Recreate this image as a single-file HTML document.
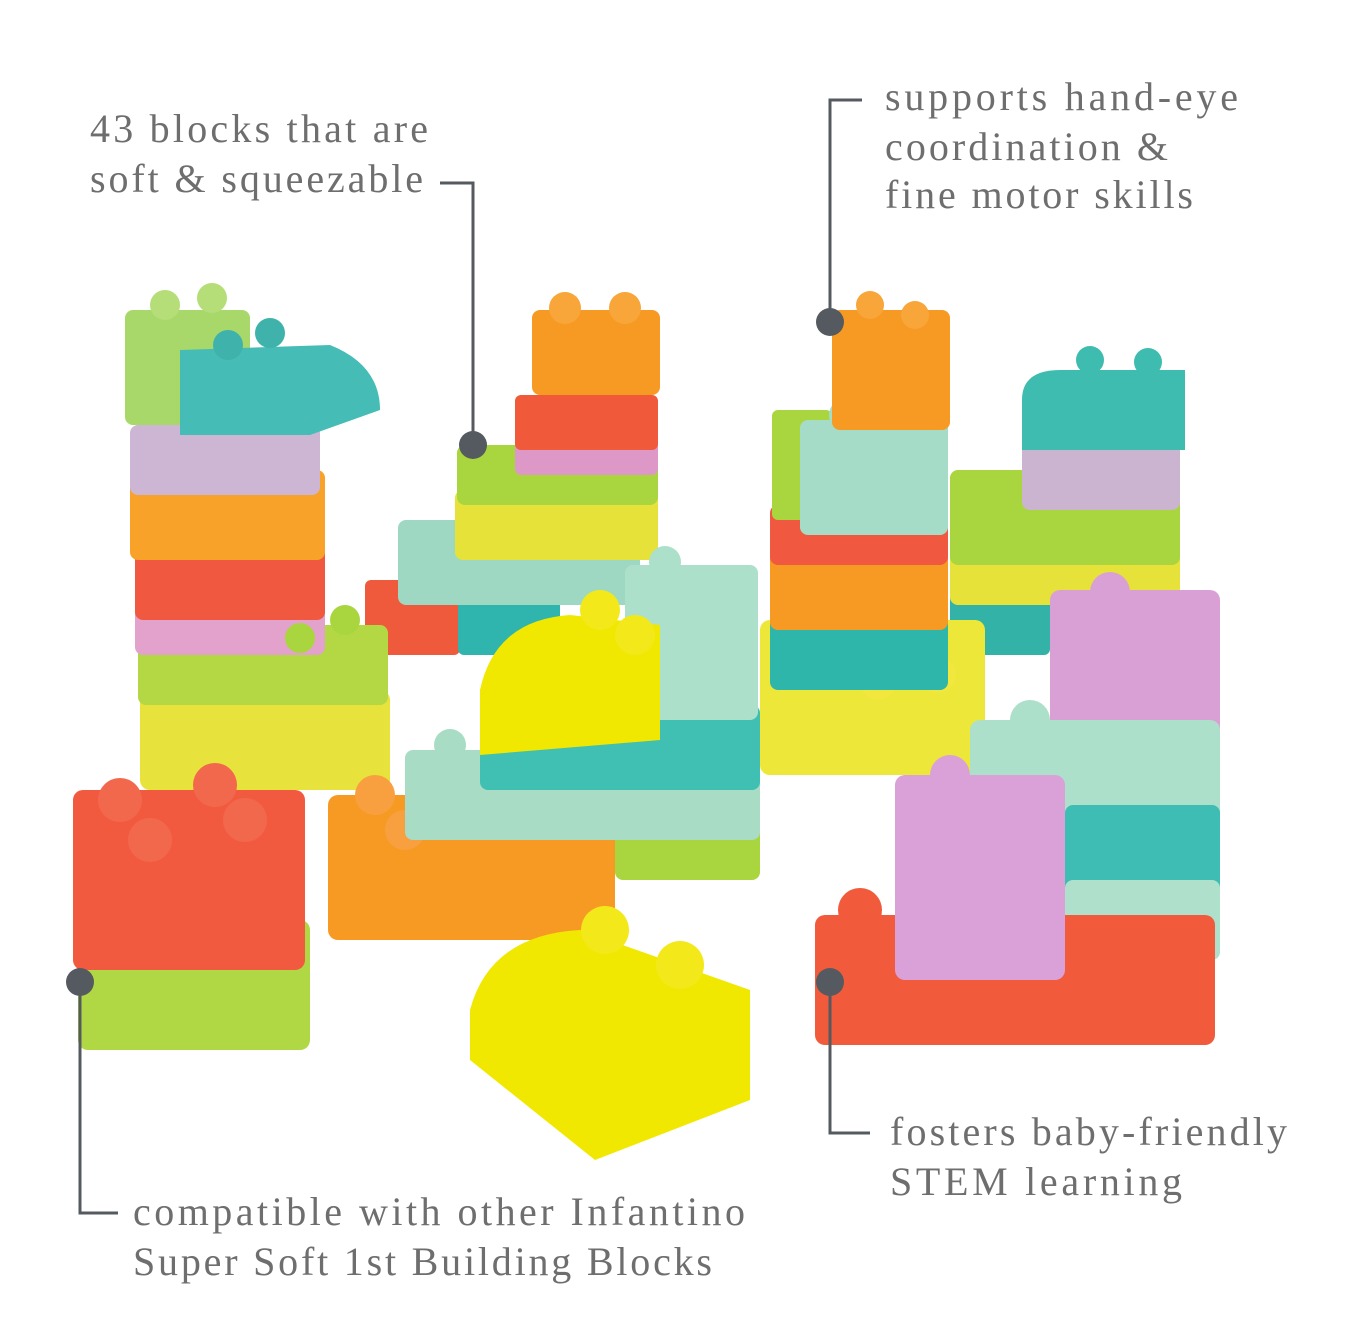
<!DOCTYPE html>
<html><head><meta charset="utf-8"><style>
html,body{margin:0;padding:0;background:#fff}
svg{display:block}
text{font-family:"Liberation Serif",serif;fill:#6e6e6e;font-size:40px}
</style></head><body>
<svg width="1350" height="1334" viewBox="0 0 1350 1334" xmlns="http://www.w3.org/2000/svg">
<g stroke="none">
<rect x="365" y="580" width="95" height="75" rx="6" fill="#ef5a3c"/>
<rect x="458" y="600" width="102" height="55" rx="6" fill="#2fb5ad"/>
<rect x="398" y="520" width="242" height="85" rx="8" fill="#9fd8c2"/>
<rect x="455" y="490" width="203" height="70" rx="8" fill="#e6e23a"/>
<rect x="457" y="445" width="201" height="60" rx="8" fill="#a9d63e"/>
<rect x="515" y="440" width="143" height="35" rx="6" fill="#dd98c8"/>
<rect x="515" y="395" width="143" height="55" rx="6" fill="#f05a3a"/>
<rect x="532" y="310" width="128" height="85" rx="8" fill="#f79a24"/>
<circle cx="565" cy="308" r="16" fill="#f8a53a"/><circle cx="625" cy="308" r="16" fill="#f8a53a"/>
<rect x="950" y="585" width="100" height="70" rx="6" fill="#33b3a8"/>
<rect x="950" y="540" width="230" height="65" rx="8" fill="#e6e23a"/>
<rect x="950" y="470" width="230" height="95" rx="8" fill="#a9d63e"/>
<rect x="1022" y="435" width="158" height="75" rx="8" fill="#cbb4cf"/>
<path d="M1022 450 L1022 400 Q1022 370 1060 370 L1185 370 L1185 450 Z" fill="#3ebcb0"/>
<circle cx="1090" cy="360" r="14" fill="#3ebcb0"/><circle cx="1148" cy="362" r="14" fill="#3ebcb0"/>
<rect x="140" y="690" width="250" height="100" rx="10" fill="#e8e33c"/>
<rect x="138" y="625" width="250" height="80" rx="8" fill="#b3d843"/>
<rect x="135" y="590" width="190" height="65" rx="8" fill="#e3a2cc"/>
<rect x="135" y="540" width="190" height="80" rx="8" fill="#f0593f"/>
<rect x="130" y="470" width="195" height="90" rx="8" fill="#f8a22a"/>
<rect x="130" y="425" width="190" height="70" rx="8" fill="#cdb6d3"/>
<rect x="125" y="310" width="125" height="115" rx="8" fill="#a9d86a"/>
<circle cx="165" cy="305" r="15" fill="#b5dd78"/><circle cx="212" cy="298" r="15" fill="#b5dd78"/>
<path d="M180 435 L180 350 L330 345 Q380 365 380 410 L310 435 Z" fill="#45bdb6"/>
<circle cx="228" cy="345" r="15" fill="#3fb2ac"/><circle cx="270" cy="333" r="15" fill="#3fb2ac"/>
<circle cx="300" cy="638" r="15" fill="#a9d63e"/><circle cx="345" cy="620" r="15" fill="#a9d63e"/>
<rect x="760" y="620" width="225" height="155" rx="10" fill="#ede73a"/>
<circle cx="878" cy="682" r="18" fill="#f2e73c"/><circle cx="938" cy="675" r="18" fill="#f2e73c"/>
<rect x="770" y="595" width="178" height="95" rx="8" fill="#2fb6ab"/>
<rect x="770" y="535" width="178" height="95" rx="8" fill="#f79a24"/>
<rect x="770" y="505" width="178" height="60" rx="8" fill="#f0593f"/>
<rect x="772" y="410" width="60" height="110" rx="6" fill="#a9d63e"/>
<rect x="800" y="420" width="148" height="115" rx="8" fill="#a5dcc7"/>
<circle cx="845" cy="415" r="16" fill="#a5dcc7"/>
<rect x="832" y="310" width="118" height="120" rx="8" fill="#f79a24"/>
<circle cx="870" cy="305" r="14" fill="#f8a53a"/><circle cx="915" cy="315" r="14" fill="#f8a53a"/>
<rect x="328" y="795" width="287" height="145" rx="10" fill="#f79a24"/>
<circle cx="375" cy="795" r="20" fill="#f8a040"/><circle cx="405" cy="830" r="20" fill="#f8a040"/>
<rect x="615" y="785" width="145" height="95" rx="8" fill="#a9d63e"/>
<rect x="405" y="750" width="355" height="90" rx="8" fill="#a8dcc5"/>
<circle cx="450" cy="745" r="16" fill="#a8dcc5"/><circle cx="485" cy="770" r="16" fill="#a8dcc5"/>
<rect x="480" y="705" width="280" height="85" rx="8" fill="#40bfb3"/>
<rect x="625" y="565" width="133" height="155" rx="8" fill="#ade0ca"/>
<circle cx="665" cy="562" r="16" fill="#ade0ca"/><circle cx="710" cy="585" r="16" fill="#ade0ca"/>
<path d="M480 755 L480 690 Q495 620 570 615 L660 625 L660 740 Z" fill="#f0e800"/>
<circle cx="600" cy="610" r="20" fill="#f3e81a"/><circle cx="635" cy="635" r="20" fill="#f3e81a"/>
<rect x="1050" y="590" width="170" height="190" rx="10" fill="#d9a0d6"/>
<circle cx="1110" cy="592" r="20" fill="#d9a0d6"/><circle cx="1165" cy="620" r="20" fill="#d9a0d6"/>
<rect x="970" y="720" width="250" height="120" rx="10" fill="#ade0ca"/>
<circle cx="1030" cy="720" r="20" fill="#ade0ca"/><circle cx="1085" cy="755" r="20" fill="#ade0ca"/>
<rect x="1065" y="805" width="155" height="115" rx="8" fill="#3ebdb5"/>
<rect x="1065" y="880" width="155" height="80" rx="8" fill="#aee0cb"/>
<rect x="815" y="915" width="400" height="130" rx="10" fill="#f15b3c"/>
<circle cx="860" cy="910" r="22" fill="#f15b3c"/><circle cx="922" cy="950" r="22" fill="#f15b3c"/>
<rect x="895" y="775" width="170" height="205" rx="10" fill="#daa1d8"/>
<circle cx="950" cy="775" r="20" fill="#daa1d8"/><circle cx="1005" cy="808" r="20" fill="#daa1d8"/>
<rect x="78" y="920" width="232" height="130" rx="10" fill="#b0d845"/>
<rect x="73" y="790" width="232" height="180" rx="10" fill="#f25a40"/>
<circle cx="120" cy="800" r="22" fill="#f2684c"/><circle cx="215" cy="785" r="22" fill="#f2684c"/>
<circle cx="150" cy="840" r="22" fill="#f2684c"/><circle cx="245" cy="820" r="22" fill="#f2684c"/>
<path d="M470 1060 L470 1010 Q490 935 580 930 L750 990 L750 1100 L595 1160 Z" fill="#f0e800"/>
<circle cx="605" cy="930" r="24" fill="#f3e81a"/><circle cx="680" cy="965" r="24" fill="#f3e81a"/>
</g>
<g stroke="#555a60" stroke-width="3" fill="none">
<polyline points="440,183 473,183 473,445"/>
<polyline points="862,100 830,100 830,322"/>
<polyline points="80,982 80,1213 118,1213"/>
<polyline points="830,982 830,1133 870,1133"/>
</g>
<g fill="#555a60">
<circle cx="473" cy="445" r="14"/><circle cx="830" cy="322" r="14"/>
<circle cx="80" cy="982" r="14"/><circle cx="830" cy="982" r="14"/>
</g>
<text x="90" y="142" textLength="338" lengthAdjust="spacing">43 blocks that are</text>
<text x="90" y="192" textLength="333" lengthAdjust="spacing">soft &amp; squeezable</text>
<text x="885" y="110" textLength="353" lengthAdjust="spacing">supports hand-eye</text>
<text x="885" y="160" textLength="283" lengthAdjust="spacing">coordination &amp;</text>
<text x="885" y="208" textLength="308" lengthAdjust="spacing">fine motor skills</text>
<text x="133" y="1225" textLength="612" lengthAdjust="spacing">compatible with other Infantino</text>
<text x="133" y="1275" textLength="579" lengthAdjust="spacing">Super Soft 1st Building Blocks</text>
<text x="890" y="1145" textLength="397" lengthAdjust="spacing">fosters baby-friendly</text>
<text x="890" y="1195" textLength="292" lengthAdjust="spacing">STEM learning</text>
</svg>
</body></html>
